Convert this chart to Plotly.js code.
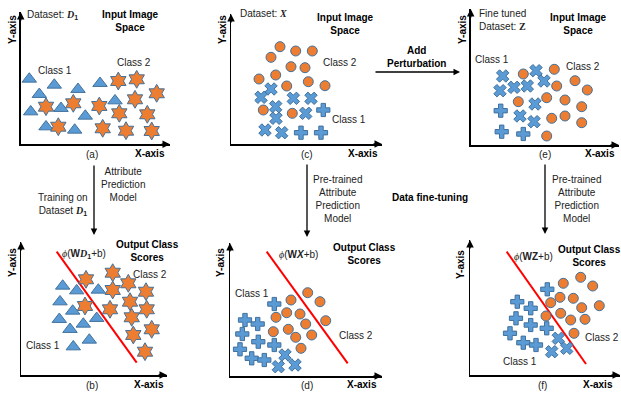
<!DOCTYPE html>
<html>
<head>
<meta charset="utf-8">
<script src="https://cdn.plot.ly/plotly-3.0.1.min.js"></script>
<style>html,body{margin:0;padding:0;background:#fff;}#chart{width:621px;height:393px;}</style>
</head>
<body>
<div id="chart"></div>
<script>
// ---------- DATA (panel-local coordinates) ----------
// Panel (a): Dataset D1, input space
const aTriX  = [8.6, 33.6, 18.6, 57.3, 79.3, 10, 40.3, 64.6, 94.3, 25.3, 54];
const aTriY  = [65.3, 59.3, 50, 55, 61, 32.6, 36, 28.3, 43.6, 17.6, 14.3];
const aStarX = [97.6, 116, 136, 114.3, 25.3, 52.6, 78.6, 98.6, 126.6, 37.6, 82, 105.3, 131];
const aStarY = [63.3, 65, 51, 45, 37.6, 41, 38.3, 31, 30, 17.6, 16, 13.6, 13.3];
// Panel (b): output class scores for D1
const bTriX  = [41.7, 55.7, 77.3, 39, 51.7, 38.3, 62.3, 75.7, 49, 68.3, 52.3];
const bTriY  = [89, 84.3, 85, 73.3, 64, 55.7, 51, 56.7, 45.7, 35, 28.3];
const bStarX = [65, 91.7, 107.3, 91.7, 125, 64, 109, 89, 125.7, 110.7, 130.7, 112.3, 124];
const bStarY = [95.7, 102.3, 91.7, 85, 83.3, 69, 73.3, 65.7, 65.7, 57.7, 45.7, 40, 23.3];
const bLineX = [35.7, 115.7];
const bLineY = [123.3, 12.3];
// Panel (c): Dataset X, input space
const cCircX = [49, 64.7, 81.3, 40, 60, 74, 44.7, 28, 55.7, 77.3, 94, 32.3, 61.3];
const cCircY = [97.3, 93, 93, 86.7, 77.3, 76.3, 69, 65, 58, 62.3, 58.3, 34, 30.7];
const cXX    = [40, 30, 62.3, 80, 44.7, 74.7, 45, 34, 50.7];
const cXY    = [55, 46.7, 45.7, 45.7, 37.3, 30.7, 25.7, 14, 11.3];
const cPlusX = [92.3, 70, 90];
const cPlusY = [34, 11.3, 11.3];
// Panel (d): output class scores for X
const dCircX = [77.7, 90, 61, 56.7, 70, 46, 95.7, 75.7, 43.3, 58.3, 65.7, 81.7, 71];
const dCircY = [83.3, 74.3, 76, 63.3, 62, 58.7, 55.3, 52, 44.3, 46.7, 38.7, 41, 27.7];
const dPlusX = [44.3, 15, 27.7, 12.3, 28.3, 44.3, 10, 21.7, 34.3];
const dPlusY = [72, 56, 52, 42, 34.3, 31, 26.7, 17.7, 16];
const dXX    = [55, 48.3, 65];
const dXY    = [21, 9.3, 11];
const dLineX = [36.7, 117.7];
const dLineY = [124.3, 12.7];
// Panel (e): fine tuned dataset Z, input space
const eCircX = [52.6, 83.6, 104.3, 86, 116.6, 47.6, 76, 94.3, 111, 81, 94.3, 111, 76];
const eCircY = [71, 75.7, 64.3, 59, 55, 43.3, 47.3, 45, 38.3, 26.7, 29, 22.3, 9];
const eXX    = [32, 65.3, 29.3, 43.3, 56.6, 73.3, 64.3, 49.3, 63.3];
const eXY    = [69, 74.3, 54.3, 57.7, 59, 64, 41, 29, 23.3];
const ePlusX = [30, 31, 52.6];
const ePlusY = [34.3, 13.3, 11];
// Panel (f): output class scores for Z
const fCircX = [110.7, 93.3, 122.7, 90, 103.3, 80.7, 111.7, 129.3, 90.7, 76, 100.7, 115, 104];
const fCircY = [97.7, 91.7, 89, 77.7, 76.7, 72.3, 67.3, 69.3, 61.7, 59, 55, 55.7, 41.7];
const fPlusX = [77.3, 47.3, 60.7, 46, 60.7, 76.7, 40, 53.3, 66];
const fPlusY = [85.7, 73.3, 66.7, 56.7, 50, 46.7, 41.7, 32.3, 30];
const fXX    = [88.3, 81.7, 96.7];
const fXY    = [36.7, 23.3, 26.7];
const fLineX = [36.7, 116];
const fLineY = [123.3, 11];

// ---------- LAYOUT HELPERS ----------
const W = 621, H = 393;
const px = x => x / W;
const py = y => 1 - y / H;

// panel frames in page pixels: x0 (origin), y0 (origin), x1 (x-arrow tip), y1 (y-arrow tip)
const frames = [
  {id:'', x0:20.7, y0:144.3, x1:170, y1:12},   // a
  {id:'2', x0:231, y0:144, x1:382, y1:14},     // c
  {id:'3', x0:470.7, y0:145, x1:619, y1:9},    // e
  {id:'4', x0:21, y0:375, x1:167, y1:242},     // b
  {id:'5', x0:230, y0:376, x1:382, y1:243},    // d
  {id:'6', x0:470, y0:375, x1:620, y1:240}     // f
];

const BLUE = '#5B9BD5', ORANGE = '#ED7D31', EDGE = '#41719C';
function mk(x, y, sym, size, color, ax) {
  return {x:x, y:y, type:'scatter', mode:'markers', cliponaxis:false, hoverinfo:'skip',
    xaxis:'x'+ax, yaxis:'y'+ax,
    marker:{symbol:sym, size:size, color:color, line:{color:EDGE, width:1}}};
}
function ln(x, y, ax) {
  return {x:x, y:y, type:'scatter', mode:'lines', cliponaxis:false, hoverinfo:'skip',
    xaxis:'x'+ax, yaxis:'y'+ax, line:{color:'#FF0000', width:2}};
}

const TRI = 12.5, STAR = 13.5, CIRC = 10, CROSS = 11;
const traces = [
  mk(aTriX, aTriY, 'triangle-up', TRI, BLUE, ''),
  mk(aStarX, aStarY, 'hexagram', STAR, ORANGE, ''),
  mk(cCircX, cCircY, 'circle', CIRC, ORANGE, '2'),
  mk(cXX, cXY, 'x', CROSS, BLUE, '2'),
  mk(cPlusX, cPlusY, 'cross', CROSS, BLUE, '2'),
  mk(eCircX, eCircY, 'circle', CIRC, ORANGE, '3'),
  mk(eXX, eXY, 'x', CROSS, BLUE, '3'),
  mk(ePlusX, ePlusY, 'cross', CROSS, BLUE, '3'),
  ln(bLineX, bLineY, '4'),
  mk(bTriX, bTriY, 'triangle-up', TRI, BLUE, '4'),
  mk(bStarX, bStarY, 'hexagram', STAR, ORANGE, '4'),
  ln(dLineX, dLineY, '5'),
  mk(dCircX, dCircY, 'circle', CIRC, ORANGE, '5'),
  mk(dPlusX, dPlusY, 'cross', CROSS, BLUE, '5'),
  mk(dXX, dXY, 'x', CROSS, BLUE, '5'),
  ln(fLineX, fLineY, '6'),
  mk(fCircX, fCircY, 'circle', CIRC, ORANGE, '6'),
  mk(fPlusX, fPlusY, 'cross', CROSS, BLUE, '6'),
  mk(fXX, fXY, 'x', CROSS, BLUE, '6')
];

const layout = {
  width: W, height: H, margin:{l:0, r:0, t:0, b:0},
  paper_bgcolor:'#ffffff', plot_bgcolor:'rgba(0,0,0,0)', showlegend:false,
  font:{family:'Liberation Sans, Arial, sans-serif', size:10, color:'#222'},
  annotations: [], shapes: []
};

const FONT = {family:'Liberation Sans, Arial, sans-serif', size:10, color:'#222'};
const BFONT = {family:'Liberation Sans, Arial, sans-serif', size:10, color:'#000'};

function txt(x, y, t, opts) {
  layout.annotations.push(Object.assign({
    xref:'paper', yref:'paper', x:px(x), y:py(y), text:t, showarrow:false,
    xanchor:'center', yanchor:'middle', font:FONT
  }, opts || {}));
}
function arrow(xh, yh, xt, yt, w) {
  layout.annotations.push({
    xref:'paper', yref:'paper', x:px(xh), y:py(yh), ax:xt - xh, ay:yt - yh,
    axref:'pixel', ayref:'pixel', text:'', showarrow:true,
    arrowhead:2, arrowsize:1, arrowwidth:w || 1.5, arrowcolor:'#000', standoff:0, startstandoff:0
  });
}

frames.forEach(f => {
  layout['xaxis'+f.id] = {domain:[px(f.x0), px(f.x1)], range:[0, f.x1 - f.x0], showgrid:false, zeroline:false,
    showticklabels:false, ticks:'', showline:true, linecolor:'#000', linewidth:1.5, fixedrange:true,
    anchor:'y'+f.id};
  layout['yaxis'+f.id] = {domain:[py(f.y0), py(f.y1)], range:[0, f.y0 - f.y1], showgrid:false, zeroline:false,
    showticklabels:false, ticks:'', showline:true, linecolor:'#000', linewidth:1.5, fixedrange:true,
    anchor:'x'+f.id};
  // arrowheads on the axes
  arrow(f.x0, f.y1, f.x0, f.y1 + 10, 1.5);
  arrow(f.x1, f.y0, f.x1 - 10, f.y0, 1.5);
});

const SERIF = 'font-family:Liberation Serif, DejaVu Serif, serif';
const D1 = '<span style="' + SERIF + '"><b><i>D</i></b></span><sub><b>1</b></sub>';
const PHI = '<span style="' + SERIF + '"><i>ϕ</i></span>';

// Panel (a)
txt(25, 15, 'Dataset: ' + D1, {xanchor:'left'});
txt(130, 21.5, '<b>Input Image<br>Space</b>', {font:BFONT});
txt(55, 70, 'Class 1');
txt(134, 63, 'Class 2');
txt(92, 154, '(a)');
txt(150, 153, '<b>X-axis</b>', {font:BFONT});
txt(12, 30, '<b>Y-axis</b>', {font:BFONT, textangle:-90});

// Panel (c)
txt(238, 13, 'Dataset: <span style="' + SERIF + '"><b><i>X</i></b></span>', {xanchor:'left'});
txt(345, 24.5, '<b>Input Image<br>Space</b>', {font:BFONT});
txt(340, 63, 'Class 2');
txt(349, 119, 'Class 1');
txt(307, 154, '(c)');
txt(363, 153, '<b>X-axis</b>', {font:BFONT});
txt(222, 30, '<b>Y-axis</b>', {font:BFONT, textangle:-90});

// Add perturbation
txt(416, 56.5, '<b>Add<br>Perturbation</b>', {font:BFONT});
arrow(460, 72, 374, 72, 1.3);

// Panel (e)
txt(477, 19.5, 'Fine tuned<br>Dataset: <span style="' + SERIF + '"><b>Z</b></span>', {xanchor:'left', align:'left'});
txt(578, 24, '<b>Input Image<br>Space</b>', {font:BFONT});
txt(492, 59, 'Class 1');
txt(583, 66, 'Class 2');
txt(545, 154, '(e)');
txt(600, 153, '<b>X-axis</b>', {font:BFONT});
txt(462, 30, '<b>Y-axis</b>', {font:BFONT, textangle:-90});

// Vertical arrows between rows
arrow(94, 235, 94, 164, 1.3);
txt(123, 185, 'Attribute<br>Prediction<br>Model');
txt(63, 204.5, 'Training on<br>Dataset ' + D1);
arrow(307, 237, 307, 163, 1.3);
txt(337, 198.5, 'Pre-trained<br>Attribute<br>Prediction<br>Model');
txt(430, 198, '<b>Data fine-tuning</b>', {font:BFONT});
arrow(545, 234, 545, 163, 1.3);
txt(576, 198.5, 'Pre-trained<br>Attribute<br>Prediction<br>Model');

// Panel (b)
txt(60, 254, PHI + '(<b>W</b><span style="' + SERIF + '"><b><i>D</i></b></span><sub><b>1</b></sub>+b)', {xanchor:'left'});
txt(147, 250.5, '<b>Output Class<br>Scores</b>', {font:BFONT});
txt(150, 274, 'Class 2');
txt(43, 345, 'Class 1');
txt(92, 385, '(b)');
txt(149, 384, '<b>X-axis</b>', {font:BFONT});
txt(12, 263, '<b>Y-axis</b>', {font:BFONT, textangle:-90});

// Panel (d)
txt(277, 254, PHI + '(<b>W<i>X</i></b>+b)', {xanchor:'left'});
txt(364, 253.5, '<b>Output Class<br>Scores</b>', {font:BFONT});
txt(252, 293, 'Class 1');
txt(356, 335, 'Class 2');
txt(307, 385, '(d)');
txt(362, 384, '<b>X-axis</b>', {font:BFONT});
txt(220, 263, '<b>Y-axis</b>', {font:BFONT, textangle:-90});

// Panel (f)
txt(512, 256, PHI + '(<b>WZ</b>+b)', {xanchor:'left'});
txt(589, 256, '<b>Output Class<br>Scores</b>', {font:BFONT});
txt(602, 337, 'Class 2');
txt(520, 361, 'Class 1');
txt(542, 385, '(f)');
txt(598, 384, '<b>X-axis</b>', {font:BFONT});
txt(460, 265, '<b>Y-axis</b>', {font:BFONT, textangle:-90});

Plotly.newPlot('chart', traces, layout, {displayModeBar:false, staticPlot:true});
</script>
</body>
</html>
